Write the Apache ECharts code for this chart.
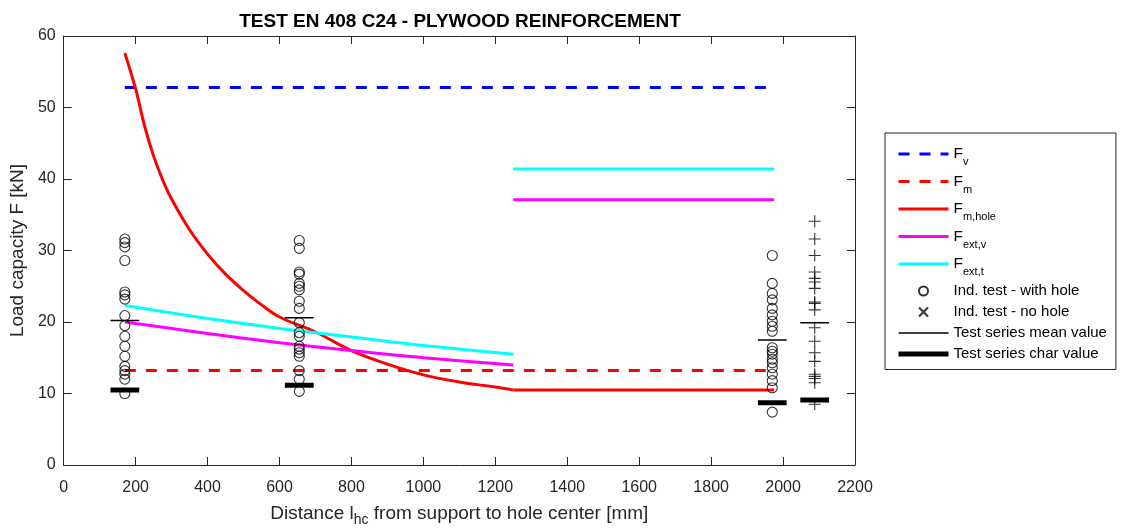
<!DOCTYPE html>
<html>
<head>
<meta charset="utf-8">
<script src="https://cdn.jsdelivr.net/npm/echarts@6/dist/echarts.min.js"></script>
<style>
  html, body { margin: 0; padding: 0; background: #fff; }
  #chart { width: 1121px; height: 532px; }
</style>
</head>
<body>
<div id="chart"></div>
<script>
// test series positions (distance to support, mm)
const seriesX = [170, 655, 1970, 2088]
// individual tests, with hole
const testsAt170 = [31.6, 31.1, 30.5, 28.6, 24.2, 23.8, 23.2, 20.9, 19.5, 18.0, 16.6, 15.2, 13.8, 13.2, 12.7, 12.0, 10.0]
const testsAt655 = [31.4, 30.3, 27.0, 26.7, 25.4, 25.0, 24.5, 22.9, 21.9, 19.9, 18.5, 18.0, 16.6, 16.2, 15.7, 15.2, 13.2, 12.0, 10.3]
const testsAt1970 = [29.3, 25.4, 24.0, 23.1, 21.9, 21.0, 20.1, 19.4, 18.7, 16.4, 15.9, 15.5, 14.8, 14.3, 13.6, 12.7, 11.8, 10.8, 7.4]
// individual tests, no hole
const testsNoHole = [34.1, 31.6, 29.3, 27.0, 26.1, 25.6, 24.7, 22.8, 22.6, 21.7, 19.2, 17.3, 15.7, 14.5, 12.7, 12.4, 12.1, 11.5, 8.5]
const meanValues = [20.2, 20.6, 17.5, 19.9]
const charValues = [10.5, 11.15, 8.7, 9.1]

// model lines
const lineX = [170, 1975]
const fvY = [52.8, 52.8]
const fmY = [13.2, 13.2]
const fmHoleX = [170, 200, 225, 250, 275, 300, 350, 400, 450, 500, 550, 600, 700, 800, 900, 1000, 1100, 1200, 1250]
const fmHoleY = [57.6, 52.6, 47.4, 43.2, 39.9, 37.2, 32.9, 29.5, 26.7, 24.4, 22.4, 20.7, 18.6, 16.0, 14.1, 12.6, 11.6, 10.9, 10.5]
const extX = [170, 400, 600, 800, 1000, 1250]
const extVY = [20.0, 18.4, 17.1, 16.0, 15.0, 14.0]
const extTY = [22.3, 20.5, 19.1, 17.9, 16.7, 15.5]
const flatX = [1250, 1975]
const fmHoleFlat = [10.5, 10.5]
const extVFlat = [37.1, 37.1]
const extTFlat = [41.4, 41.4]

const barHalf = 40
const font = 'Liberation Sans, Arial, sans-serif'
const axisColor = '#262626'

const zip = (xs, ys) => xs.map((x, i) => [x, ys[i]])
const column = (x, vals) => vals.map(v => [x, v])
const bars = (vals) => vals.map((v, i) => [[seriesX[i] - barHalf, v], [seriesX[i] + barHalf, v], [seriesX[i], '-']]).flat()

const chart = echarts.init(document.getElementById('chart'))

const lineSeries = (name, data, color, type, smooth) => ({
    name, type: 'line', data, symbol: 'none', z: 2, smooth: smooth || false,
    lineStyle: { color, width: 3, type: type || 'solid' },
    itemStyle: { color },
    animation: false
})

const baseX = {
    type: 'value', min: 0, max: 2200, interval: 200,
    axisLine: { show: true, onZero: false, lineStyle: { color: axisColor, width: 1 } },
    axisTick: { show: true, inside: true, length: 8, lineStyle: { color: axisColor } },
    splitLine: { show: false }
}
const baseY = {
    type: 'value', min: 0, max: 60, interval: 10,
    axisLine: { show: true, onZero: false, lineStyle: { color: axisColor, width: 1 } },
    axisTick: { show: true, inside: true, length: 8, lineStyle: { color: axisColor } },
    splitLine: { show: false }
}
const noSymbol = { opacity: 0 }

const option = {
    backgroundColor: '#fff',
    textStyle: { fontFamily: font },
    title: {
        text: 'TEST EN 408 C24 - PLYWOOD REINFORCEMENT',
        left: 455, top: 7, textAlign: 'center',
        textStyle: { fontSize: 19, fontWeight: 'bold', color: '#000', fontFamily: font }
    },
    grid: { left: 62, right: 266, top: 36, bottom: 64 },
    xAxis: [
        Object.assign({}, baseX, {
            position: 'bottom',
            axisLabel: { color: axisColor, fontSize: 16, margin: 15, fontFamily: font, formatter: v => String(v) },
            name: '{a|Distance l}{b|hc}{a| from support to hole center [mm]}',
            nameLocation: 'middle', nameGap: 36,
            nameTextStyle: {
                rich: {
                    a: { fontSize: 19, color: axisColor, fontFamily: font, lineHeight: 26 },
                    b: { fontSize: 14, color: axisColor, fontFamily: font, verticalAlign: 'bottom', lineHeight: 14 }
                }
            }
        }),
        Object.assign({}, baseX, { position: 'top', axisLabel: { show: false } })
    ],
    yAxis: [
        Object.assign({}, baseY, {
            position: 'left',
            axisLabel: { color: axisColor, fontSize: 16, margin: 8, fontFamily: font },
            name: 'Load capacity F [kN]',
            nameLocation: 'middle', nameGap: 34,
            nameTextStyle: { fontSize: 19, color: axisColor, fontFamily: font }
        }),
        Object.assign({}, baseY, { position: 'right', axisLabel: { show: false } })
    ],
    legend: {
        orient: 'vertical', left: 885, top: 133,
        padding: [13, 9, 8, 11],
        itemWidth: 50, itemHeight: 9, itemGap: 6,
        borderColor: axisColor, borderWidth: 1, borderRadius: 0,
        backgroundColor: '#fff',
        lineStyle: { width: 3 },
        data: [
            { name: 'Fv', itemStyle: noSymbol },
            { name: 'Fm', itemStyle: noSymbol },
            { name: 'Fm,hole', itemStyle: noSymbol },
            { name: 'Fext,v', itemStyle: noSymbol },
            { name: 'Fext,t', itemStyle: noSymbol },
            'Ind. test - with hole',
            { name: 'Ind. test - no hole', icon: 'path://M0 0 L10 10 M10 0 L0 10' },
            { name: 'Test series mean value', itemStyle: noSymbol, lineStyle: { width: 1.5 } },
            { name: 'Test series char value', itemStyle: noSymbol, lineStyle: { width: 5 } }
        ],
        formatter: (name) => {
            if (name.charAt(0) === 'F') return '{f|F}{s|' + name.slice(1) + '}'
            return '{t|' + name + '}'
        },
        textStyle: {
            color: '#000', fontFamily: font,
            rich: {
                f: { fontSize: 15.5, lineHeight: 27, color: '#000', fontFamily: font },
                s: { fontSize: 11, lineHeight: 11, verticalAlign: 'bottom', color: '#000', fontFamily: font },
                t: { fontSize: 15, lineHeight: 15, color: '#000', fontFamily: font }
            }
        }
    },
    series: [
        lineSeries('Fv', zip(lineX, fvY), '#0000ff', [11, 10]),
        lineSeries('Fm', zip(lineX, fmY), '#ff0000', [11, 10]),
        lineSeries('Fm,hole', zip(fmHoleX, fmHoleY), '#ff0000', null, 0.35),
        lineSeries('Fm,hole', zip(flatX, fmHoleFlat), '#ff0000'),
        lineSeries('Fext,v', zip(extX, extVY), '#ff00ff', null, 0.3),
        lineSeries('Fext,v', zip(flatX, extVFlat), '#ff00ff'),
        lineSeries('Fext,t', zip(extX, extTY), '#00ffff', null, 0.3),
        lineSeries('Fext,t', zip(flatX, extTFlat), '#00ffff'),
        {
            name: 'Ind. test - with hole', type: 'scatter', symbol: 'circle', symbolSize: 10, z: 3,
            data: column(seriesX[0], testsAt170).concat(column(seriesX[1], testsAt655), column(seriesX[2], testsAt1970)),
            itemStyle: { color: 'rgba(0,0,0,0)', borderColor: '#000', borderWidth: 1.1 },
            animation: false
        },
        {
            name: 'Ind. test - no hole', type: 'scatter', symbol: 'path://M5 0 L5 10 M0 5 L10 5', symbolSize: 12, z: 3,
            data: column(seriesX[3], testsNoHole),
            itemStyle: { color: 'rgba(0,0,0,0)', borderColor: '#000', borderWidth: 1.1 },
            animation: false
        },
        {
            name: 'Test series mean value', type: 'line', symbol: 'none', z: 4,
            data: bars(meanValues), connectNulls: false,
            lineStyle: { color: '#000', width: 1.5 }, itemStyle: { color: '#000' },
            animation: false
        },
        {
            name: 'Test series char value', type: 'line', symbol: 'none', z: 4,
            data: bars(charValues), connectNulls: false,
            lineStyle: { color: '#000', width: 5 }, itemStyle: { color: '#000' },
            animation: false
        }
    ]
}
chart.setOption(option)
</script>
</body>
</html>
